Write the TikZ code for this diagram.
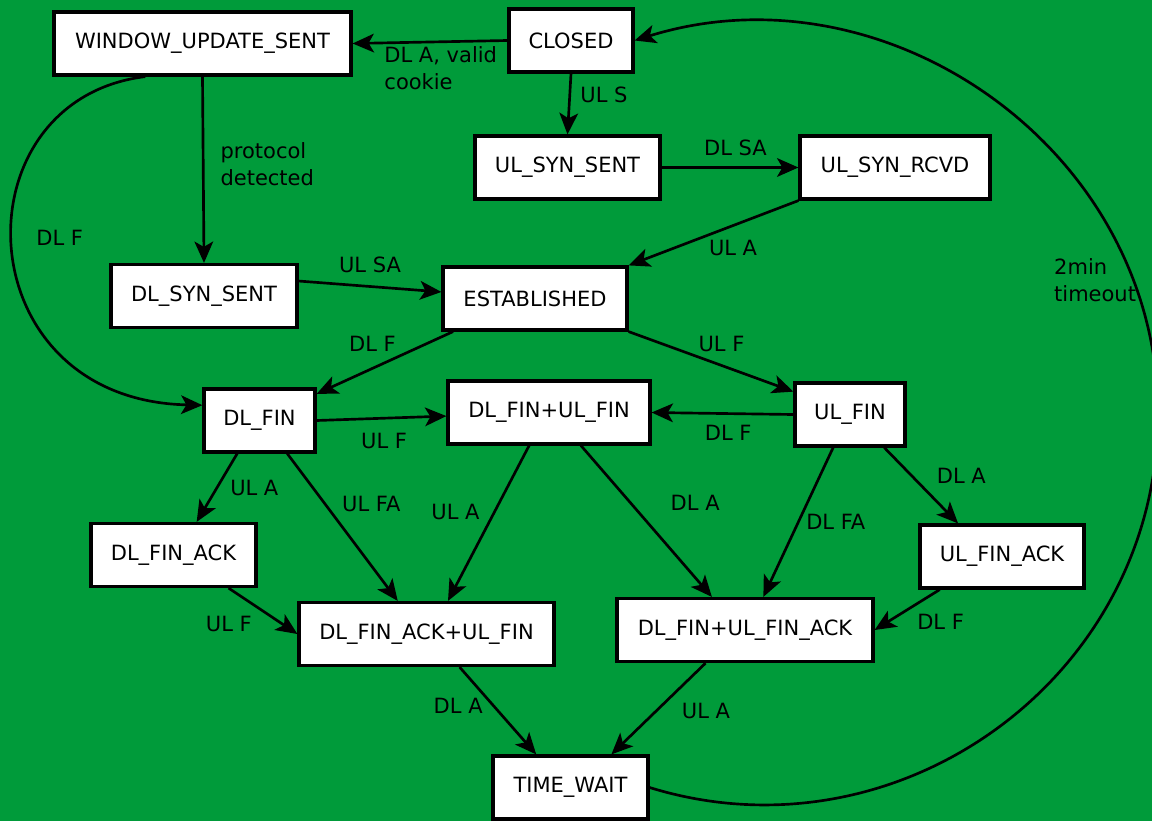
\documentclass[tikz,border=0pt]{standalone}
\usepackage{fontspec}
\setmainfont{DejaVu Sans}
\usepackage{xcolor}
\usepackage{tikz}
\usetikzlibrary{arrows.meta}
\usetikzlibrary{positioning}

\definecolor{bggreen}{RGB}{0,155,58}

\begin{document}
\begin{tikzpicture}[x=0.75pt,y=-0.75pt,
        font=\fontsize{15.75pt}{20.25pt}\selectfont,
        >={Stealth[length=16pt,width=14pt,inset=4pt]},
        state/.style={draw,fill=white,line width=2.4pt,minimum height=47.25pt,inner sep=2pt},
        trans/.style={->,line width=2pt},
        lbl/.style={inner sep=2pt,align=left}]
        \fill[bggreen] (0,0) rectangle (1152,821);
        \useasboundingbox (0,0) rectangle (1152,821);
        % states
        \node[state,minimum width=222.75pt] (wus) at (202.5,43.5) {WINDOW\_UPDATE\_SENT};
        \node[state,minimum width=93pt] (closed) at (571,40.5) {CLOSED};
        \node[state,minimum width=138.75pt] (ulss) at (567.5,167.5) {UL\_SYN\_SENT};
        \node[state,minimum width=142.5pt] (ulsr) at (895,167.5) {UL\_SYN\_RCVD};
        \node[state,minimum width=139.5pt] (dlss) at (204,296) {DL\_SYN\_SENT};
        \node[state,minimum width=138pt] (est) at (535,298.5) {ESTABLISHED};
        \node[state,minimum width=83.25pt] (dlfin) at (259.5,420.5) {DL\_FIN};
        \node[state,minimum width=151.5pt] (dfuf) at (549,412.5) {DL\_FIN+UL\_FIN};
        \node[state,minimum width=82.5pt] (ulfin) at (850,414.5) {UL\_FIN};
        \node[state,minimum width=123.75pt] (dfa) at (173.5,555) {DL\_FIN\_ACK};
        \node[state,minimum width=191.25pt] (dfaulf) at (426.5,634) {DL\_FIN\_ACK+UL\_FIN};
        \node[state,minimum width=192pt] (dfufa) at (745,630) {DL\_FIN+UL\_FIN\_ACK};
        \node[state,minimum width=123pt] (ufa) at (1002,556.5) {UL\_FIN\_ACK};
        \node[state,minimum width=116.25pt] (tw) at (570.5,787.5) {TIME\_WAIT};
        % transitions
        \draw[trans] (closed.west) -- (wus.east) node[lbl,pos=.82,anchor=north west] {DL A, valid\\cookie};
        \draw[trans] (closed.south) -- (ulss.north) node[lbl,pos=.35,right=5pt] {UL S};
        \draw[trans] (ulss.east) -- (ulsr.west) node[lbl,pos=.54,above=6pt] {DL SA};
        \draw[trans] (ulsr.south west) -- (est.north east) node[lbl,pos=.55,below right] {UL A};
        \draw[trans] (wus.south) -- (dlss.north) node[lbl,pos=.47,right=10pt] {protocol\\detected};
        \draw[trans] (wus.210) .. controls (-45,100) and (-36,400) .. (dlfin.165) node[lbl,pos=.48,right=15pt] {DL F};
        \draw[trans] (dlss.9) -- (est.176) node[lbl,midway,above=7pt] {UL SA};
        \draw[trans] (est.202) -- (dlfin.25) node[lbl,pos=.39,above left] {DL F};
        \draw[trans] (est.south east) -- (ulfin.158) node[lbl,pos=.4,above right] {UL F};
        \draw[trans] (dlfin.east) -- (dfuf.182) node[lbl,pos=.52,below=8pt] {UL F};
        \draw[trans] (ulfin.west) -- (dfuf.east) node[lbl,pos=.46,below=6pt] {DL F};
        \draw[trans] (dlfin.236) -- (dfa.55) node[lbl,pos=.5,right=7pt] {UL A};
        \draw[trans] (dlfin.310) -- (dfaulf.131) node[lbl,pos=.34,right=10pt] {UL FA};
        \draw[trans] (dfuf.239) -- (dfaulf.57) node[lbl,pos=.43,left=8pt] {UL A};
        \draw[trans] (dfuf.314) -- (dfufa.135) node[lbl,pos=.38,right=27pt] {DL A};
        \draw[trans] (ulfin.243) -- (dfufa.61) node[lbl,pos=.5,right=3pt] {DL FA};
        \draw[trans] (ulfin.316) -- (ufa.143) node[lbl,pos=.37,right=16pt] {DL A};
        \draw[trans] (dfa.329) -- (dfaulf.west) node[lbl,pos=.45,below left=4pt] {UL F};
        \draw[trans] (ufa.208) -- (dfufa.east) node[lbl,pos=.45,below right=3pt] {DL F};
        \draw[trans] (dfaulf.315) -- (tw.136) node[lbl,pos=.44,left=5pt] {DL A};
        \draw[trans] (dfufa.220) -- (tw.39) node[lbl,pos=.52,right=16pt] {UL A};
        \draw[trans] (tw.east) .. controls (899,864.5) and (1158,677) .. (1158,414)
            .. controls (1158,150) and (887,-38) .. (closed.east)
            node[lbl,pos=.18,anchor=east,xshift=5pt] {2min\\timeout};
\end{tikzpicture}
\end{document}
